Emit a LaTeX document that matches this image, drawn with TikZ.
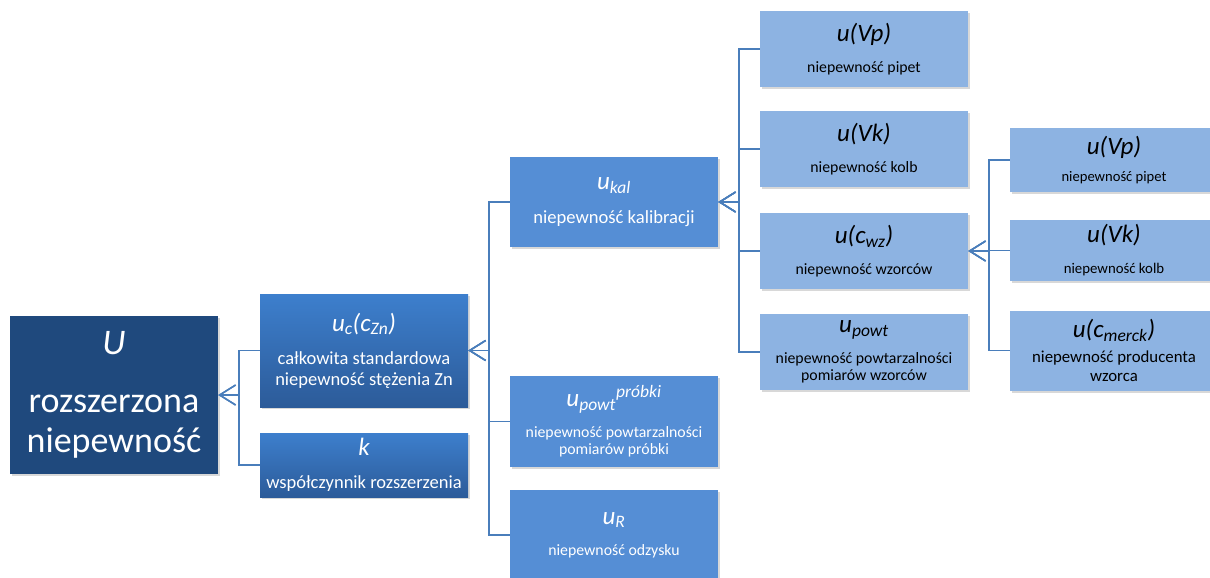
\documentclass[tikz,border=0pt]{standalone}
\usepackage{fontspec}
\setmainfont{Carlito}
\usepackage{tikz}
\usetikzlibrary{arrows.meta, shadows}
\definecolor{granat}{HTML}{1F497D}
\definecolor{gora}{HTML}{3D7FCD}
\definecolor{dol}{HTML}{2C5B99}
\definecolor{srodek}{HTML}{558ED5}
\definecolor{jasny}{HTML}{8DB3E2}
\definecolor{linia}{HTML}{4A7EBB}
\newcommand{\naglowek}{\fontsize{25}{28}\selectfont\itshape}
\newcommand{\ciasno}{\lineskiplimit=-100pt\relax}
\tikzset{rozmiar/.style 2 args={font=\fontsize{#1}{#2}\selectfont\ciasno}}
\tikzstyle{pudelko} = [rectangle, inner sep=0pt, minimum width=208pt, align=center, rozmiar={15.8}{17}, drop shadow={shadow xshift=2pt, shadow yshift=-2pt, opacity=0.3}]
\tikzstyle{glowny} = [pudelko, fill=granat, text=white, minimum height=158pt, rozmiar={36}{40}]
\tikzstyle{drugi} = [pudelko, top color=gora, bottom color=dol, text=white, rozmiar={18.5}{21}]
\tikzstyle{trzeci} = [pudelko, fill=srodek, text=white]
\tikzstyle{czwarty} = [pudelko, fill=jasny, text=black]
\tikzstyle{galaz} = [draw=linia, line width=1.5pt, -{Straight Barb[length=16pt, width=20pt]}]

\begin{document}
\begin{tikzpicture}[x=1pt, y=-1pt]

        \useasboundingbox [fill=white] (0,0) rectangle (1210,578);

        \node (U) [glowny] at (114,395) {{\itshape U}\\[18pt]rozszerzona\\niepewność};

        \node (uc) [drugi, minimum height=113pt] at (364,350.5) {{\naglowek u\textsubscript{c}(c\textsubscript{Zn})}\\[12pt]całkowita standardowa\\niepewność stężenia Zn};
        \node (k)  [drugi, minimum height=64pt]  at (364,465)   {{\naglowek k}\\[12pt]współczynnik rozszerzenia};

        \node (ukal) [trzeci, minimum height=90pt, rozmiar={18.6}{21}] at (614,202) {{\naglowek u\textsubscript{kal}}\\[13pt]niepewność kalibracji};
        \node (upp)  [trzeci, minimum height=91pt] at (614,421.5) {{\naglowek u\textsubscript{powt}\textsuperscript{próbki}}\\[14pt]niepewność powtarzalności\\pomiarów próbki};
        \node (uR)   [trzeci, minimum height=91pt] at (614,535)   {{\naglowek u\textsubscript{R}}\\[14pt]niepewność odzysku};

        \node (vp)   [czwarty, minimum height=76pt] at (864,49)  {{\naglowek u(Vp)}\\[14pt]niepewność pipet};
        \node (vk)   [czwarty, minimum height=76pt] at (864,149) {{\naglowek u(Vk)}\\[14pt]niepewność kolb};
        \node (cwz)  [czwarty, minimum height=76pt] at (864,251) {{\naglowek u(c\textsubscript{wz})}\\[14pt]niepewność wzorców};
        \node (powt) [czwarty, minimum height=76pt] at (864,352) {{\naglowek u\textsubscript{powt}}\\[14pt]niepewność powtarzalności\\pomiarów wzorców};

        \node (vp2)   [czwarty, minimum height=64pt, rozmiar={14.6}{17}] at (1114,160)   {{\naglowek u(Vp)}\\[10pt]niepewność pipet};
        \node (vk2)   [czwarty, minimum height=61pt, rozmiar={14.8}{17}] at (1114,250.5) {{\naglowek u(Vk)}\\[14pt]niepewność kolb};
        \node (merck) [czwarty, minimum height=80pt, rozmiar={16.8}{19}] at (1114,350.5) {{\naglowek u(c\textsubscript{merck})}\\[6pt]niepewność producenta\\wzorca};

        \draw [galaz] (uc.west) -- ++(-21,0) |- (U.east);
        \draw [galaz] (k.west)  -- ++(-21,0) |- (U.east);

        \draw [galaz] (ukal.west) -- ++(-21,0) |- (uc.east);
        \draw [galaz] (upp.west)  -- ++(-21,0) |- (uc.east);
        \draw [galaz] (uR.west)   -- ++(-21,0) |- (uc.east);

        \draw [galaz] (vp.west)   -- ++(-21,0) |- (ukal.east);
        \draw [galaz] (vk.west)   -- ++(-21,0) |- (ukal.east);
        \draw [galaz] (cwz.west)  -- ++(-21,0) |- (ukal.east);
        \draw [galaz] (powt.west) -- ++(-21,0) |- (ukal.east);

        \draw [galaz] (vp2.west)   -- ++(-21,0) |- (cwz.east);
        \draw [galaz] (vk2.west)   -- ++(-21,0) |- (cwz.east);
        \draw [galaz] (merck.west) -- ++(-21,0) |- (cwz.east);

    \end{tikzpicture}
\end{document}
